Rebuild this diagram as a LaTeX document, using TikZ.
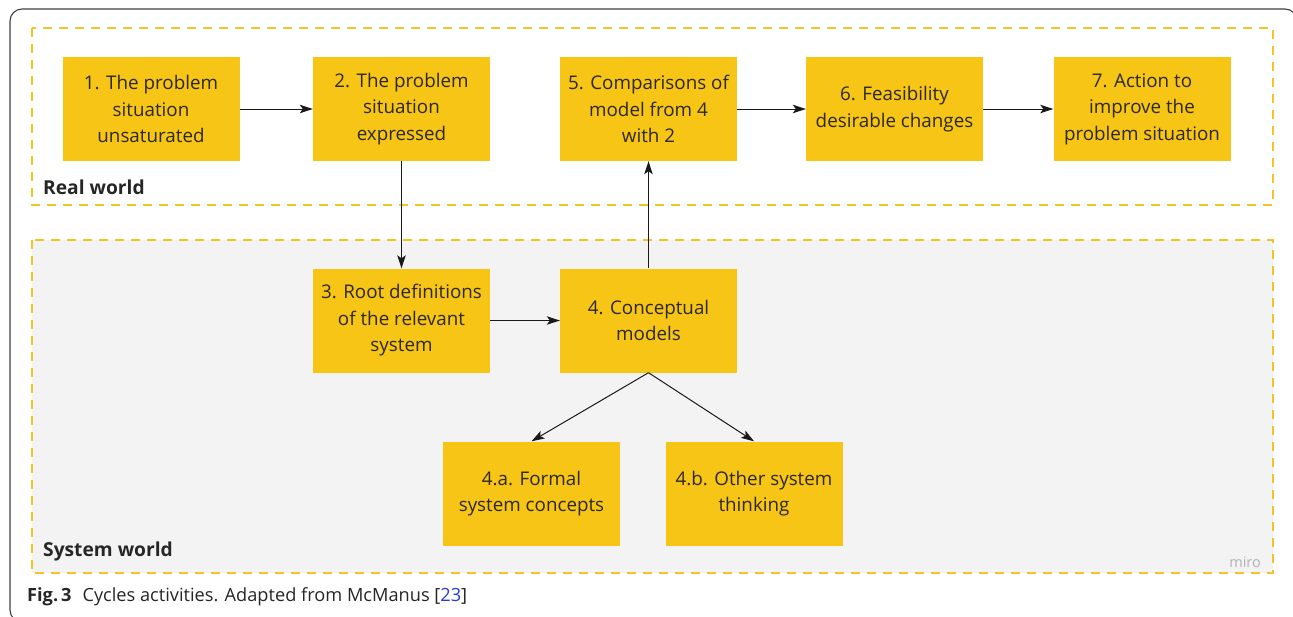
\documentclass[tikz,border=0pt]{standalone}
\usepackage{fontspec}
\setmainfont{Open Sans}
\usetikzlibrary{arrows.meta}
\definecolor{boxy}{RGB}{246,197,22}
\definecolor{dashy}{RGB}{242,196,40}
\definecolor{bgg}{RGB}{243,243,243}
\definecolor{txt}{RGB}{45,40,30}
\definecolor{refblue}{RGB}{40,60,220}
\tikzset{
  stepbox/.style={fill=boxy, draw=none, minimum width=177pt, minimum height=104pt,
    align=center, text=txt, font=\fontsize{18.8}{26.5}\selectfont, inner sep=0pt},
  conn/.style={draw=black!90, line width=1pt, -{Stealth[length=13pt,width=8.5pt,inset=3pt]}},
  zone/.style={draw=dashy, line width=2.6pt, dash pattern=on 9pt off 7pt},
  zonelabel/.style={anchor=west, font=\fontsize{19.2}{22}\selectfont\bfseries, text=black!85, inner sep=0pt},
}
\begin{document}
\begin{tikzpicture}[x=1pt,y=-1pt]
\useasboundingbox (0,0) rectangle (1293,616);
\fill[white] (0,0) rectangle (1293,616);
% outer frame (right and bottom edges fall outside the picture)
\begin{scope}
\clip (0,0) rectangle (1293,616);
\draw[black!75, line width=1.1pt, rounded corners=12pt] (10,9) rectangle (1297,622);
\end{scope}
% zones
\fill[bgg] (32,240) rectangle (1273,573);
\draw[zone] (32,28) rectangle (1273,205);
\draw[zone] (32,240) rectangle (1273,573);
\node[zonelabel] (rw) at (43,187) {Real world};
\node[zonelabel] (sw) at (43,552) {System world};
\node[anchor=east, font=\fontsize{14.5}{16}\selectfont, text=black!30, inner sep=0pt] (miro) at (1261,562) {miro};
% boxes
\node[stepbox] (b1) at (151,109) {1. The problem\\situation\\unsaturated};
\node[stepbox] (b2) at (401.5,109) {2. The problem\\situation\\expressed};
\node[stepbox] (b5) at (648.5,109) {5. Comparisons of\\model from 4\\with 2};
\node[stepbox] (b6) at (894.5,109) {6. Feasibility\\desirable changes};
\node[stepbox] (b7) at (1142,109) {7. Action to\\improve the\\problem situation};
\node[stepbox] (b3) at (401.5,320.5) {3. Root definitions\\of the relevant\\system};
\node[stepbox] (b4) at (648.5,320.5) {4. Conceptual\\models};
\node[stepbox] (b4a) at (531.5,493.5) {4.a. Formal\\system concepts};
\node[stepbox] (b4b) at (754,493.5) {4.b. Other system\\thinking};
% connectors
\draw[conn] (b1) -- (b2);
\draw[conn] (b5) -- (b6);
\draw[conn] (b6) -- (b7);
\draw[conn] (b2) -- (b3);
\draw[conn] (b3) -- (b4);
\draw[conn] (b4) -- (b5);
\draw[conn] (b4.south) -- (b4a.north);
\draw[conn] (b4.south) -- (b4b.north);
% caption
\node[anchor=west, inner sep=0pt, font=\fontsize{18.2}{22}\selectfont, text=black!85] (cap) at (27,597)
  {\textbf{Fig.\,3}\hspace{0.6em}Cycles activities. Adapted from McManus [\textcolor{refblue}{23}]};
\end{tikzpicture}
\end{document}
